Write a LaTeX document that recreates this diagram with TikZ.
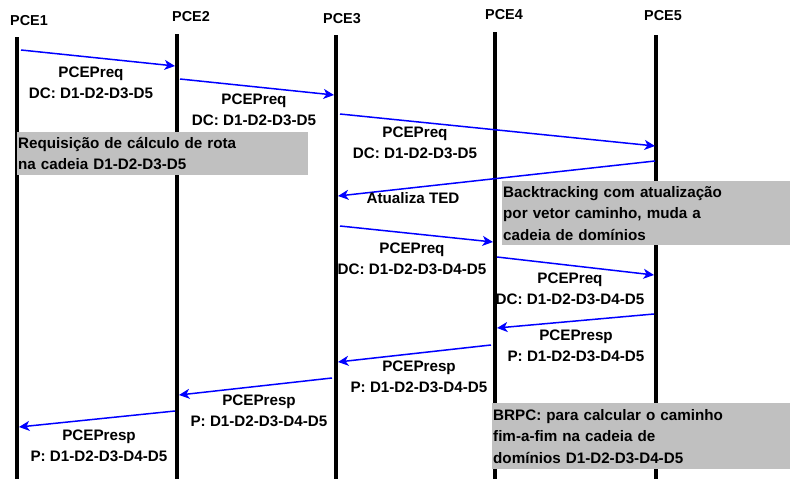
\documentclass[tikz,border=0pt]{standalone}
\usepackage{fontspec}
\setmainfont{Liberation Sans}
\usetikzlibrary{arrows.meta}
\definecolor{notegray}{RGB}{192,192,192}

\begin{document}
\begin{tikzpicture}[x=1pt,y=-1pt,
  font=\bfseries\fontsize{15.2}{21.5}\selectfont,
  life/.style={line width=4pt},
  msg/.style={blue,line width=1.5pt,-{Stealth[length=10.5pt,width=10pt,inset=3pt]}},
  lbl/.style={align=center,inner sep=0pt},
  note/.style={fill=notegray,inner xsep=1pt,inner ysep=0pt,anchor=north west,align=left}]
\useasboundingbox (0,0) rectangle (790,479);

% PCEs and lifelines
\node[font=\bfseries\fontsize{14.4}{16}\selectfont] (pce1) at (29,21) {PCE1};
\node[font=\bfseries\fontsize{14.4}{16}\selectfont] (pce2) at (191,17) {PCE2};
\node[font=\bfseries\fontsize{14.4}{16}\selectfont] (pce3) at (342,19) {PCE3};
\node[font=\bfseries\fontsize{14.4}{16}\selectfont] (pce4) at (504,15) {PCE4};
\node[font=\bfseries\fontsize{14.4}{16}\selectfont] (pce5) at (663,16) {PCE5};
\coordinate (l1top) at (17,37);  \coordinate (l1bot) at (17,479);
\coordinate (l2top) at (177,34); \coordinate (l2bot) at (177,479);
\coordinate (l3top) at (336,35); \coordinate (l3bot) at (336,479);
\coordinate (l4top) at (495,32); \coordinate (l4bot) at (495,479);
\coordinate (l5top) at (656,35); \coordinate (l5bot) at (656,479);
\draw[life] (l1top) -- (l1bot);
\draw[life] (l2top) -- (l2bot);
\draw[life] (l3top) -- (l3bot);
\draw[life] (l4top) -- (l4bot);
\draw[life] (l5top) -- (l5bot);

% Requests along D1-D2-D3-D5
\coordinate (m1a) at (21,50);   \coordinate (m1b) at (175,66);
\coordinate (m2a) at (180,79);  \coordinate (m2b) at (334,95);
\coordinate (m3a) at (340,114); \coordinate (m3b) at (655,146);
\draw[msg] (m1a) -- (m1b);
\draw[msg] (m2a) -- (m2b);
\draw[msg] (m3a) -- (m3b);
\node[lbl] (req1) at (91,83) {PCEPreq\\DC: D1-D2-D3-D5};
\node[lbl] (req2) at (254,110) {PCEPreq\\DC: D1-D2-D3-D5};
\node[lbl] (req3) at (415,143) {PCEPreq\\DC: D1-D2-D3-D5};

% Backtracking
\coordinate (m4a) at (655,161); \coordinate (m4b) at (338,196);
\draw[msg] (m4a) -- (m4b);
\node[lbl] (ted) at (413,198) {Atualiza TED};

% Requests along D1-D2-D3-D4-D5
\coordinate (m5a) at (340,226); \coordinate (m5b) at (493,242);
\coordinate (m6a) at (497,257); \coordinate (m6b) at (654,275);
\draw[msg] (m5a) -- (m5b);
\draw[msg] (m6a) -- (m6b);
\node[lbl] (req4) at (412,259) {PCEPreq\\DC: D1-D2-D3-D4-D5};
\node[lbl] (req5) at (570,289) {PCEPreq\\DC: D1-D2-D3-D4-D5};

% Responses
\coordinate (m7a) at (654,314);  \coordinate (m7b) at (497,328);
\coordinate (m8a) at (491,345);  \coordinate (m8b) at (338,362);
\coordinate (m9a) at (332,378);  \coordinate (m9b) at (179,395);
\coordinate (m10a) at (175,411); \coordinate (m10b) at (19,427);
\draw[msg] (m7a) -- (m7b);
\draw[msg] (m8a) -- (m8b);
\draw[msg] (m9a) -- (m9b);
\draw[msg] (m10a) -- (m10b);
\node[lbl] (resp1) at (576,346) {PCEPresp\\P: D1-D2-D3-D4-D5};
\node[lbl] (resp2) at (419,377) {PCEPresp\\P: D1-D2-D3-D4-D5};
\node[lbl] (resp3) at (259,411) {PCEPresp\\P: D1-D2-D3-D4-D5};
\node[lbl] (resp4) at (99,446) {PCEPresp\\P: D1-D2-D3-D4-D5};

% Notes
\node[note,text width=289pt,minimum height=43pt] (reqnote) at (17,132)
  {Requisição de cálculo de rota\\na cadeia D1-D2-D3-D5\\[-3pt]};
\node[note,text width=286pt,minimum height=64pt] (backnote) at (502,181)
  {Backtracking com atualização\\por vetor caminho, muda a\\cadeia de domínios\\[-3pt]};
\node[note,text width=296pt,minimum height=66pt] (brpcnote) at (492,403)
  {BRPC: para calcular o caminho\\fim-a-fim na cadeia de\\domínios D1-D2-D3-D4-D5\\[-3pt]};
\end{tikzpicture}
\end{document}
